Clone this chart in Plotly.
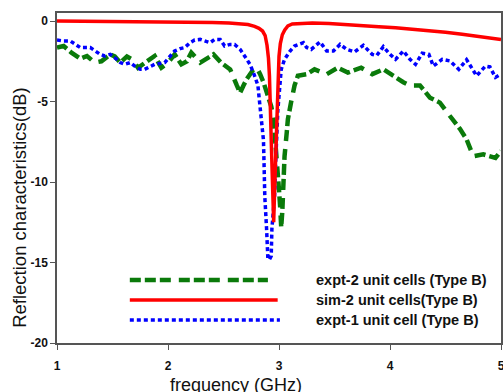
import plotly.graph_objects as go

# ---- data ----
green_f = [1.0, 1.06, 1.13, 1.21, 1.27, 1.34, 1.40, 1.48, 1.52, 1.57, 1.63, 1.68, 1.73, 1.79, 1.88,
           1.94, 2.0, 2.06, 2.12, 2.17, 2.21, 2.29, 2.35, 2.41, 2.48, 2.56, 2.62, 2.65, 2.68, 2.71,
           2.77, 2.80, 2.83, 2.86, 2.90, 2.93, 2.95, 2.97, 2.985, 3.0, 3.01, 3.02, 3.03, 3.04, 3.05,
           3.07, 3.08, 3.11, 3.14, 3.17, 3.25, 3.32, 3.43, 3.53, 3.62, 3.74, 3.84, 3.94, 4.05, 4.12,
           4.18, 4.27, 4.36, 4.45, 4.54, 4.63, 4.69, 4.75, 4.84, 4.9, 4.95, 5.0]
green_db = [-1.65, -1.55, -1.96, -2.34, -2.17, -2.58, -2.5, -2.07, -2.2, -2.58, -2.2, -2.4, -2.9, -2.6, -2.17,
            -2.9, -2.58, -2.07, -2.69, -2.5, -1.96, -2.58, -2.3, -2.07, -2.6, -3.0, -4.0, -4.45, -4.0, -3.6,
            -3.0, -2.9, -3.3, -3.8, -4.66, -5.3, -6.0, -7.5, -9.2, -10.5, -11.5, -12.8, -11.8, -10.0, -8.4,
            -6.9, -6.1, -5.0, -4.0, -3.4, -3.3, -3.0, -3.3, -2.9, -3.2, -2.9, -3.3, -3.0, -3.5, -3.8,
            -4.0, -4.0, -4.76, -5.07, -5.9, -6.7, -7.35, -8.4, -8.28, -8.4, -8.5, -8.07]

red_f = [1.0, 1.3, 1.6, 1.9, 2.2, 2.4, 2.55, 2.65, 2.72, 2.78, 2.82, 2.852, 2.875, 2.892, 2.905,
         2.914, 2.923, 2.930, 2.942, 2.952, 2.962, 2.974, 2.982, 2.99, 3.0, 3.012, 3.03, 3.052, 3.08,
         3.12, 3.2, 3.3, 3.45, 3.6, 3.75, 3.9, 4.05, 4.2, 4.35, 4.5, 4.65, 4.8, 4.9, 5.0]
red_db = [0.0, -0.01, -0.03, -0.05, -0.07, -0.09, -0.12, -0.16, -0.22, -0.33, -0.45, -0.62, -0.9, -1.5, -2.3,
          -3.4, -5.0, -7.4, -10.2, -12.5, -10.2, -7.4, -5.0, -3.4, -2.2, -1.4, -0.85, -0.55, -0.3,
          -0.18, -0.13, -0.12, -0.15, -0.2, -0.27, -0.35, -0.42, -0.5, -0.6, -0.7, -0.82, -0.96, -1.05, -1.14]

blue_f = [1.0, 1.06, 1.12, 1.16, 1.21, 1.30, 1.34, 1.39, 1.43, 1.48, 1.52, 1.57, 1.61, 1.66, 1.70,
          1.75, 1.79, 1.84, 1.88, 1.97, 2.02, 2.06, 2.11, 2.15, 2.20, 2.24, 2.29, 2.33, 2.38, 2.42,
          2.47, 2.51, 2.56, 2.60, 2.65, 2.69, 2.74, 2.78, 2.81, 2.82, 2.83, 2.845, 2.86, 2.865, 2.872,
          2.888, 2.90, 2.915, 2.93, 2.936, 2.96, 2.97, 2.978, 2.99, 3.005, 3.02, 3.05, 3.10, 3.14, 3.19,
          3.22, 3.25, 3.29, 3.37, 3.43, 3.49, 3.55, 3.61, 3.68, 3.76, 3.84, 3.88, 3.94, 4.0, 4.05,
          4.12, 4.18, 4.23, 4.29, 4.35, 4.39, 4.47, 4.54, 4.62, 4.69, 4.78, 4.86, 4.90, 4.95, 5.0]
blue_db = [-1.18, -1.24, -1.24, -1.45, -1.65, -1.65, -1.86, -2.07, -2.17, -2.07, -2.28, -2.58, -2.69, -2.58, -2.8,
           -3.0, -3.0, -2.8, -2.69, -2.58, -2.17, -1.86, -1.71, -1.65, -1.34, -1.18, -1.14, -1.24, -1.34, -1.14,
           -1.14, -1.55, -1.45, -1.45, -1.76, -2.17, -2.7, -3.4, -4.0, -4.7, -5.5, -6.5, -7.4, -8.8, -10.9,
           -12.9, -14.8, -14.8, -14.6, -12.9, -10.9, -8.8, -7.0, -5.5, -4.24, -3.0, -2.38, -1.86, -1.55, -1.4,
           -1.34, -1.65, -1.76, -1.3, -1.86, -1.86, -1.45, -1.76, -1.92, -1.51, -2.07, -2.14, -1.59, -2.07, -2.38,
           -1.86, -2.38, -2.69, -2.0, -2.07, -2.8, -2.38, -2.48, -3.0, -2.4, -3.4, -2.8, -2.85, -3.5, -3.3]

legend_labels = ["expt-2 unit cells (Type B)", "sim-2 unit cells(Type B)", "expt-1 unit cell (Type B)"]
x_ticks = [1, 2, 3, 4, 5]
x_tick_text = ["1", "2", "3", "4", "5"]
y_ticks = [0, -5, -10, -15, -20]
y_tick_text = ["0", "-5", "-10", "-15", "-20"]

GREEN = "#0a7a0a"
RED = "#ff0000"
BLUE = "#0000ff"
GREEN_DASH = "11px,4px,11px,4px,11px,8px"
BLUE_DASH = "4px,3px"

fig = go.Figure()
fig.add_trace(go.Scatter(x=green_f, y=green_db, mode="lines",
                         line=dict(color=GREEN, width=4.5, dash=GREEN_DASH), showlegend=False))
fig.add_trace(go.Scatter(x=blue_f, y=blue_db, mode="lines",
                         line=dict(color=BLUE, width=3.5, dash=BLUE_DASH), showlegend=False))
fig.add_trace(go.Scatter(x=red_f, y=red_db, mode="lines",
                         line=dict(color=RED, width=3.5), showlegend=False))

FONT = "Arial, 'Liberation Sans', sans-serif"

# legend drawn as shapes + text (paper coords)
leg_rows = [0.191, 0.130, 0.070]
leg_x1 = [0.475, 0.497, 0.502]
leg_styles = [dict(color=GREEN, width=4.5, dash=GREEN_DASH),
              dict(color=RED, width=3.5),
              dict(color=BLUE, width=3.5, dash=BLUE_DASH)]
for yy, x1, st, lab in zip(leg_rows, leg_x1, leg_styles, legend_labels):
    fig.add_shape(type="line", xref="paper", yref="paper", x0=0.164, x1=x1, y0=yy, y1=yy, line=st)
    fig.add_annotation(xref="paper", yref="paper", x=0.578, y=yy, text=lab, showarrow=False,
                       xanchor="left", yanchor="middle",
                       font=dict(family=FONT, size=14.5, color="#111", weight="bold"))

fig.add_annotation(xref="paper", yref="paper", x=0.403, y=-0.128, text="frequency (GHz)",
                   showarrow=False, xanchor="center", yanchor="middle",
                   font=dict(family=FONT, size=18, color="#111"))
fig.add_annotation(xref="paper", yref="paper", x=-0.083, y=0.41,
                   text="Reflection characteristics(dB)", textangle=-90,
                   showarrow=False, xanchor="center", yanchor="middle",
                   font=dict(family=FONT, size=18.5, color="#111"))

fig.update_layout(
    width=503, height=392,
    margin=dict(l=57, r=2, t=13, b=49, autoexpand=False),
    paper_bgcolor="white", plot_bgcolor="white",
    font=dict(family=FONT, color="#111"),
    xaxis=dict(range=[1, 5], tickvals=x_ticks, ticktext=x_tick_text, ticks="outside", ticklen=5,
               tickwidth=1.2, tickcolor="#555", showgrid=False, zeroline=False, showline=True,
               linecolor="#555", linewidth=1.5, mirror=True, ticklabelstandoff=6, automargin=False,
               ticklabeloverflow="allow",
               tickfont=dict(family=FONT, size=12, color="#111", weight="bold")),
    yaxis=dict(range=[-20, 0.5], tickvals=y_ticks, ticktext=y_tick_text, ticks="outside", ticklen=5,
               tickwidth=1.2, tickcolor="#555", showgrid=False, zeroline=False, showline=True,
               linecolor="#555", linewidth=1.5, mirror=True, automargin=False,
               ticklabeloverflow="allow",
               tickfont=dict(family=FONT, size=12, color="#111", weight="bold")),
)

fig.write_html("out.html", config={"displayModeBar": False},
               post_script="document.body.style.margin='0';document.body.style.overflow='hidden';")
